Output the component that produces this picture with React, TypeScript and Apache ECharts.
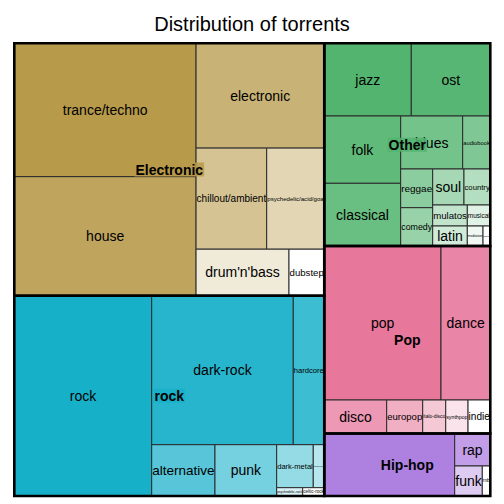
import React, { useEffect, useRef } from 'react';
import * as echarts from 'echarts';

const title = 'Distribution of torrents';
const groupNames = ['Electronic', 'rock', 'Other', 'Pop', 'Hip-hop'];
const groupColors = ['#B89A4B', '#17B0C9', '#52B46F', '#E7789C', '#AE80E0'];

const electronicNames = ['trance/techno', 'house', 'electronic', 'chillout/ambient', 'psychedelic/acid/goa', "drum'n'bass", 'dubstep'];
const electronicValues = [24239, 21640, 13433, 7141, 5818, 4325, 1641];

const rockNames = ['rock', 'dark-rock', 'hardcore', 'alternative', 'punk', 'dark-metal', "rock'n'roll", 'psychedelic-rock', 'celtic-rock'];
const rockValues = [27507, 21084, 4616, 3247, 3165, 1574, 473, 216, 179];

const otherNames = ['jazz', 'ost', 'folk', 'classical', 'blues', 'audiobook', 'reggae', 'comedy', 'soul', 'country', 'mulatos', 'latin', 'musical', 'meditation', 'dating'];
const otherValues = [6325, 5743, 5142, 4790, 3286, 1463, 1238, 1226, 1127, 947, 727, 692, 483, 314, 145];

const popNames = ['pop', 'dance', 'disco', 'europop', 'italo-disco', 'synthpop', 'indie'];
const popValues = [17972, 7592, 2090, 1206, 771, 747, 745];

const hiphopNames = ['hip-hop', 'rap', 'funk', 'rnb'];
const hiphopValues = [8150, 1157, 828, 240];

const unlabeledLeaves = ['hip-hop'];

const groupLeafNames = [electronicNames, rockNames, otherNames, popNames, hiphopNames];
const groupLeafValues = [electronicValues, rockValues, otherValues, popValues, hiphopValues];

const PLOT_LEFT = 14.3;
const PLOT_TOP = 43.3;
const PLOT_W = 476;
const PLOT_H = 452.7;
const FONT = '"Liberation Sans", Arial, Helvetica, sans-serif';

type Item = { v: number; i: number };

function sumItems(items: Item[]) {
  return items.reduce((s, d) => s + d.v, 0);
}

// pivot-by-size layout (as R treemap "pivotSize")
function pivotLayout(items: Item[], x: number, y: number, w: number, h: number, out: number[][]) {
  if (items.length === 0) return;
  if (items.length === 1) {
    out[items[0].i] = [x, y, x + w, y + h];
    return;
  }
  const total = sumItems(items);
  const p = items[0];
  const rest = items.slice(1);
  const wide = w >= h;
  let bestK = 0;
  let bestAR = Infinity;
  let acc = 0;
  for (let k = 0; k <= rest.length; k++) {
    if (k > 0) acc += rest[k - 1].v;
    const frac = (p.v + acc) / total;
    const share = p.v / (p.v + acc);
    const pw = wide ? w * frac : w * share;
    const ph = wide ? h * share : h * frac;
    const ar = Math.max(pw / ph, ph / pw);
    if (ar < bestAR) {
      bestAR = ar;
      bestK = k;
    }
  }
  const l2 = rest.slice(0, bestK);
  const l3 = rest.slice(bestK);
  const a2 = sumItems(l2);
  const frac = (p.v + a2) / total;
  const share = p.v / (p.v + a2);
  if (wide) {
    const cw = w * frac;
    const ph = h * share;
    out[p.i] = [x, y, x + cw, y + ph];
    pivotLayout(l2, x, y + ph, cw, h - ph, out);
    pivotLayout(l3, x + cw, y, w - cw, h, out);
  } else {
    const rh = h * frac;
    const pw = w * share;
    out[p.i] = [x, y, x + pw, y + rh];
    pivotLayout(l2, x + pw, y, w - pw, rh, out);
    pivotLayout(l3, x, y + rh, w, h - rh, out);
  }
}

function sortedItems(values: number[]): Item[] {
  return values.map((v, i) => ({ v, i })).sort((a, b) => b.v - a.v);
}

function hexToRgb(hex: string) {
  const n = parseInt(hex.slice(1), 16);
  return [(n >> 16) & 255, (n >> 8) & 255, n & 255];
}

function mixWhite(hex: string, t: number) {
  const [r, g, b] = hexToRgb(hex);
  const m = (c: number) => Math.round(c + (255 - c) * t);
  return `rgb(${m(r)},${m(g)},${m(b)})`;
}

function withAlpha(hex: string, a: number) {
  const [r, g, b] = hexToRgb(hex);
  return `rgba(${r},${g},${b},${a})`;
}

type Leaf = { name: string; color: string; rect: number[] };
type Group = { name: string; color: string; rect: number[] };

function buildLayout() {
  const groupSums = groupLeafValues.map((vals) => vals.reduce((s, v) => s + v, 0));
  const groupRects: number[][] = [];
  pivotLayout(sortedItems(groupSums), 0, 0, PLOT_W, PLOT_H, groupRects);
  const groups: Group[] = groupNames.map((name, g) => ({ name, color: groupColors[g], rect: groupRects[g] }));
  const leaves: Leaf[] = [];
  groupLeafValues.forEach((vals, g) => {
    const gr = groupRects[g];
    const rects: number[][] = [];
    const items = sortedItems(vals);
    pivotLayout(items, gr[0], gr[1], gr[2] - gr[0], gr[3] - gr[1], rects);
    const n = items.length;
    items.forEach((it, rank) => {
      const t = n > 1 ? Math.pow(rank / (n - 1), 1.3) : 0;
      leaves.push({
        name: groupLeafNames[g][it.i],
        color: mixWhite(groupColors[g], t),
        rect: rects[it.i],
      });
    });
  });
  return { groups, leaves };
}

let measureCtx: CanvasRenderingContext2D | null = null;
function textWidth(text: string, size: number, weight = 'normal') {
  if (!measureCtx) measureCtx = document.createElement('canvas').getContext('2d');
  if (!measureCtx) return text.length * size * 0.55;
  measureCtx.font = `${weight} ${size}px ${FONT}`;
  return measureCtx.measureText(text).width;
}

function fitFont(text: string, w: number, h: number) {
  const base = 14;
  const tw = textWidth(text, base);
  return Math.min(base, (base * (w - 1)) / tw, h * 0.8);
}

export default function App() {
  const ref = useRef<HTMLDivElement>(null);

  useEffect(() => {
    if (!ref.current) return;
    const chart = echarts.init(ref.current, null, { renderer: 'svg' });
    const { groups, leaves } = buildLayout();

    const option: any = {
      animation: false,
      backgroundColor: '#ffffff',
      title: {
        text: title,
        left: 'center',
        top: 9,
        textStyle: { fontSize: 20, fontWeight: 'normal', color: '#000', fontFamily: FONT },
      },
      grid: { left: PLOT_LEFT, top: PLOT_TOP, width: PLOT_W, height: PLOT_H },
      xAxis: { type: 'value', min: 0, max: PLOT_W, show: false },
      yAxis: { type: 'value', min: 0, max: PLOT_H, inverse: true, show: false },
      series: [
        {
          type: 'custom',
          name: 'leaves',
          z: 2,
          silent: true,
          data: leaves.map((l) => ({ name: l.name, value: l.rect })),
          renderItem: (params: any, api: any) => {
            const leaf = leaves[params.dataIndex];
            const p0 = api.coord([api.value(0), api.value(1)]);
            const p1 = api.coord([api.value(2), api.value(3)]);
            const x = p0[0];
            const y = p0[1];
            const w = p1[0] - p0[0];
            const h = p1[1] - p0[1];
            const children: any[] = [
              {
                type: 'rect',
                shape: { x, y, width: w, height: h },
                style: { fill: leaf.color, stroke: '#2a2a2a', lineWidth: 1 },
              },
            ];
            const fs = fitFont(leaf.name, w, h);
            if (unlabeledLeaves.indexOf(leaf.name) < 0 && fs >= 2) {
              children.push({
                type: 'text',
                x: x + w / 2,
                y: y + h / 2,
                style: {
                  text: leaf.name,
                  fill: '#000',
                  fontSize: fs,
                  fontFamily: FONT,
                  align: 'center',
                  verticalAlign: 'middle',
                  textAlign: 'center',
                  textVerticalAlign: 'middle',
                },
              });
            }
            return { type: 'group', children };
          },
        },
        {
          type: 'custom',
          name: 'groups',
          z: 3,
          silent: true,
          data: groups.map((g) => ({ name: g.name, value: g.rect })),
          renderItem: (params: any, api: any) => {
            const grp = groups[params.dataIndex];
            const p0 = api.coord([api.value(0), api.value(1)]);
            const p1 = api.coord([api.value(2), api.value(3)]);
            const x = p0[0];
            const y = p0[1];
            const w = p1[0] - p0[0];
            const h = p1[1] - p0[1];
            return {
              type: 'group',
              children: [
                {
                  type: 'rect',
                  shape: { x, y, width: w, height: h },
                  style: { fill: 'none', stroke: '#000', lineWidth: 2.6 },
                },
                {
                  type: 'text',
                  x: x + w / 2,
                  y: y + h / 2,
                  style: {
                    text: grp.name,
                    fill: '#000',
                    fontSize: 14,
                    fontWeight: 'bold',
                    fontFamily: FONT,
                    align: 'center',
                    verticalAlign: 'middle',
                    textAlign: 'center',
                    textVerticalAlign: 'middle',
                    backgroundColor: withAlpha(grp.color, 0.85),
                    padding: [0, 1],
                  },
                },
              ],
            };
          },
        },
      ],
    };

    chart.setOption(option);
    return () => chart.dispose();
  }, []);

  return (
    <div
      ref={ref}
      style={{ position: 'absolute', left: 0, top: 0, width: 504, height: 504 }}
    />
  );
}
